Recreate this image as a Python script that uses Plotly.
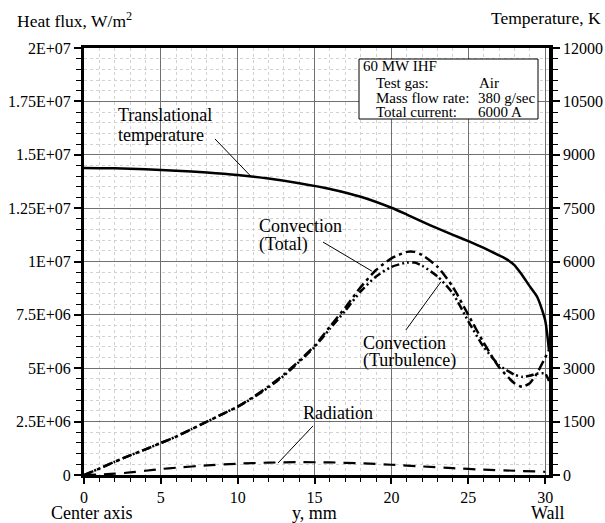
import plotly.graph_objects as go

# ---------------- data ----------------
y_temp = [0, 2, 4, 6, 8, 10, 12, 14, 16, 18, 20, 21, 22, 23, 24, 25, 26, 27, 27.5, 28, 28.5, 29, 29.5, 30, 30.25]
temp_K = [8630, 8620, 8590, 8550, 8500, 8430, 8330, 8200, 8040, 7820, 7510, 7320, 7120, 6930, 6750, 6570, 6380, 6170, 6060, 5900, 5620, 5300, 4990, 4350, 3500]

y_conv = [0, 1, 2, 3, 4, 5, 6, 7, 8, 9, 10, 11, 12, 13, 14, 15, 16, 17, 18, 19, 20, 21, 21.5, 22, 23, 24, 25, 26, 27, 28, 28.5, 29, 29.5, 30, 30.25]
conv_total = [0, 0.30, 0.62, 0.92, 1.20, 1.50, 1.80, 2.15, 2.50, 2.85, 3.20, 3.65, 4.15, 4.70, 5.35, 6.05, 6.95, 7.85, 8.80, 9.60, 10.15, 10.45, 10.45, 10.30, 9.75, 8.80, 7.50, 6.20, 5.05, 4.30, 4.13, 4.30, 4.80, 5.50, 5.85]
conv_turb = [0, 0.30, 0.62, 0.92, 1.20, 1.50, 1.80, 2.15, 2.50, 2.85, 3.20, 3.62, 4.10, 4.65, 5.30, 6.00, 6.85, 7.70, 8.60, 9.30, 9.75, 9.95, 9.95, 9.80, 9.30, 8.50, 7.20, 6.00, 5.15, 4.70, 4.60, 4.65, 4.75, 4.75, 4.40]

y_rad = [0, 1, 2, 3, 4, 5, 6, 8, 10, 12, 14, 16, 18, 20, 22, 24, 26, 28, 30]
radiation = [0, 0.02, 0.06, 0.12, 0.20, 0.28, 0.34, 0.45, 0.53, 0.58, 0.60, 0.59, 0.55, 0.48, 0.40, 0.32, 0.25, 0.20, 0.15]

left_tickvals = [0, 2.5e6, 5e6, 7.5e6, 1e7, 1.25e7, 1.5e7, 1.75e7, 2e7]
left_ticktext = ["0", "2.5E+06", "5E+06", "7.5E+06", "1E+07", "1.25E+07", "1.5E+07", "1.75E+07", "2E+07"]
right_tickvals = [0, 1500, 3000, 4500, 6000, 7500, 9000, 10500, 12000]
right_ticktext = ["0", "1500", "3000", "4500", "6000", "7500", "9000", "10500", "12000"]
x_tickvals = [0, 5, 10, 15, 20, 25, 30]

FONT = "Liberation Serif, Times New Roman, serif"
E6 = 1e6

fig = go.Figure()
fig.add_trace(go.Scatter(x=y_conv, y=[v * E6 for v in conv_total], mode="lines",
                         line=dict(color="black", width=2.5, dash="10px,4px,3px,4px", shape="spline", smoothing=0.6)))
fig.add_trace(go.Scatter(x=y_conv, y=[v * E6 for v in conv_turb], mode="lines",
                         line=dict(color="black", width=2.5, dash="8px,3px,2px,3px,2px,3px", shape="spline", smoothing=0.6)))
fig.add_trace(go.Scatter(x=y_rad, y=[v * E6 for v in radiation], mode="lines",
                         line=dict(color="black", width=2.2, dash="12px,8px", shape="spline", smoothing=0.6)))
fig.add_trace(go.Scatter(x=y_temp, y=temp_K, mode="lines", yaxis="y2",
                         line=dict(color="black", width=2.5, shape="spline", smoothing=0.6)))

major_grid = "#707070"
minor_grid = "#d2d2d2"

fig.update_layout(
    width=605, height=523,
    margin=dict(l=84, r=56, t=48, b=48, pad=0, autoexpand=False),
    paper_bgcolor="white", plot_bgcolor="white",
    showlegend=False,
    font=dict(family=FONT, size=16, color="black"),
    xaxis=dict(range=[0, 30.25], tickvals=x_tickvals, ticks="outside", ticklen=6, tickwidth=1.5,
               tickcolor="black", showline=True, linewidth=3, linecolor="black", mirror=True,
               showgrid=True, gridcolor=major_grid, gridwidth=1, zeroline=False, automargin=False,
               tickfont=dict(family=FONT, size=16),
               minor=dict(dtick=1, ticks="outside", ticklen=4, tickwidth=1, tickcolor="black",
                          showgrid=True, gridcolor=minor_grid, griddash="dot", gridwidth=1)),
    yaxis=dict(range=[0, 2e7], tickvals=left_tickvals, ticktext=left_ticktext, ticks="outside",
               ticklen=7, tickwidth=1.5, tickcolor="black", showline=True, linewidth=3, linecolor="black",
               showgrid=True, gridcolor=major_grid, gridwidth=1, zeroline=False, automargin=False,
               tickfont=dict(family=FONT, size=16),
               minor=dict(dtick=5e5, ticks="outside", ticklen=5, tickwidth=1, tickcolor="black",
                          showgrid=True, gridcolor=minor_grid, griddash="dot", gridwidth=1)),
    yaxis2=dict(range=[0, 12000], overlaying="y", side="right", tickvals=right_tickvals,
                ticktext=right_ticktext,
                ticks="outside", ticklen=7, tickwidth=1.5, tickcolor="black", showline=True,
                linewidth=3.5, linecolor="black", showgrid=False, zeroline=False, automargin=False,
                tickfont=dict(family=FONT, size=16),
                minor=dict(dtick=300, ticks="outside", ticklen=5, tickwidth=1, tickcolor="black",
                           showgrid=False)),
)

W, H = 465.0, 427.0
def px(xp):
    return (xp - 84) / W
def py(yp):
    return (475 - yp) / H

def label(text, xp, yp, size=18, anchor="left"):
    fig.add_annotation(text=text, x=px(xp), y=py(yp), xref="paper", yref="paper",
                       xanchor=anchor, yanchor="middle", showarrow=False, borderpad=0,
                       font=dict(family=FONT, size=size, color="black"))

# axis titles
label("Heat flux, W/m<sup>2</sup>", 16, 20, size=17.5)
label("Temperature, K", 602, 18, size=17.5, anchor="right")
label("Center axis", 50, 513)
label("y, mm", 314, 513, anchor="center")
label("Wall", 548, 513, anchor="center")

# curve labels
label("Translational", 117, 115)
label("temperature", 117, 135)
label("Convection", 258, 226)
label("(Total)", 258, 245)
label("Convection", 362, 343)
label("(Turbulence)", 362, 361)
label("Radiation", 338, 413, anchor="center")

# info box
fig.add_shape(type="rect", xref="paper", yref="paper", x0=px(359), x1=px(538), y0=py(119), y1=py(59),
              line=dict(color="black", width=1), fillcolor="white", layer="above")
label("60 MW IHF", 362, 66, size=15)
label("Test gas:", 375, 83, size=15)
label("Air", 478, 83, size=15)
label("Mass flow rate:", 375, 98, size=15)
label("380 g/sec", 477, 98, size=15)
label("Total current:", 375, 112.5, size=15)
label("6000 A", 477, 112.5, size=15)

# leader lines (data coordinates)
leaders = [
    (8.52, 15.74e6, 10.87, 13.98e6),
    (15.55, 10.91e6, 18.73, 9.55e6),
    (20.94, 6.79e6, 23.22, 9.05e6),
    (14.90, 2.30e6, 12.62, 0.56e6),
]
for x0, y0, x1, y1 in leaders:
    fig.add_shape(type="line", xref="x", yref="y", x0=x0, y0=y0, x1=x1, y1=y1,
                  line=dict(color="black", width=1))

fig.write_html("out.html", config={"displayModeBar": False},
               post_script="document.body.style.margin='0px';document.body.style.overflow='hidden';")
